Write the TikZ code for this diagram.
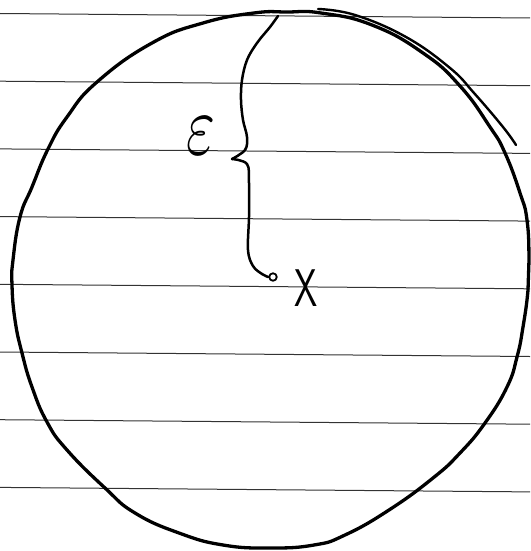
\documentclass[tikz,border=0pt]{standalone}
\begin{document}
\begin{tikzpicture}[x=1pt,y=-1pt,
  paperline/.style={black!80, line width=1pt},
  ink/.style={black, line width=3.3pt, line cap=round, line join=round},
  pointmark/.style={circle, draw=black, line width=1.8pt, minimum size=7.5pt, inner sep=0pt}]
\useasboundingbox (0,0) rectangle (530,551);
\fill[white] (0,0) rectangle (530,551);
% ruled paper
\foreach \k in {0,...,7}
  \draw[paperline] (0,{13.5+67.7*\k}) -- (530,{18+67.7*\k});
% hand-drawn circle
\draw[ink] plot[smooth cycle, tension=0.8] coordinates {
  (287,12) (321,13) (372,25) (423,53) (460,86) (490,127) (505,153) (520,193)
  (527,220) (529,260) (528,290) (523,327) (517,357) (507,387) (485,423)
  (460,453) (433,478) (389,510) (345,535) (314,545) (270,548) (223,545)
  (179,533) (135,513) (105,488) (67,450) (47,422) (32,387) (22,353)
  (15,320) (12,285) (13,260) (20,217) (32,187) (48,149) (67,117) (97,82)
  (152,43) (203,23) (254,13)};
% extra stroke at upper right
\draw[ink, line width=2.4pt] plot[smooth, tension=0.7] coordinates {
  (318,9) (355,15) (406,37) (450,68) (474,93) (503,127) (516,145)};
% the point x
\node[pointmark] (x) at (273,277) {};
% curly brace from the circle down to x
\draw[ink, line width=2.5pt] plot[smooth, tension=0.6] coordinates {
  (278,16) (270,27) (257,43) (247,60) (242,80) (241,100) (243,120)
  (247,137) (245,150) (232,159)};
\draw[ink, line width=2.5pt] plot[smooth, tension=0.6] coordinates {
  (232,159) (247,164) (249,183) (249,217) (248,250) (253,266) (262,274) (x.west)};
% labels
\node[inner sep=0pt, xscale=6.2, yscale=8.6] (eps) at (201,136) {$\varepsilon$};
\node[inner sep=0pt, xscale=0.7, font=\sffamily\fontsize{53}{53}\selectfont] (X) at (306,288) {X};
\end{tikzpicture}
\end{document}
